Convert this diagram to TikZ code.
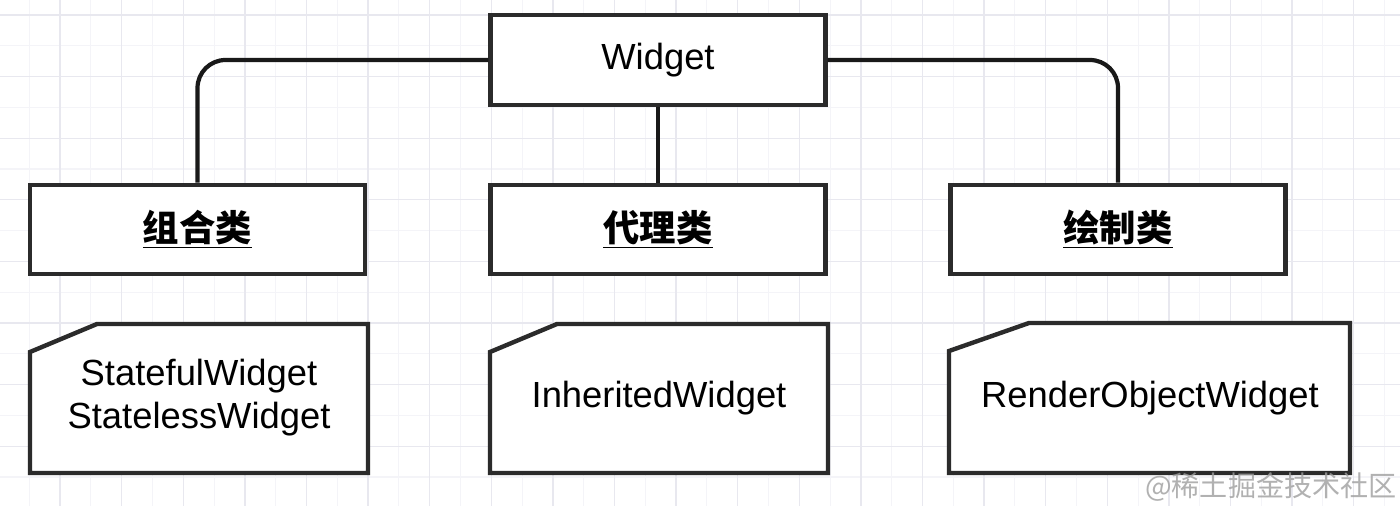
\documentclass[tikz,border=0pt]{standalone}
\usepackage{fontspec}
\setmainfont{Liberation Sans}
\newfontfamily\cjk{Noto Sans CJK SC}
\usetikzlibrary{calc}

\definecolor{gridminor}{HTML}{F4F4F8}
\definecolor{gridmajor}{HTML}{E8E8EF}
\definecolor{edge}{HTML}{2B2B2B}

\begin{document}
\begin{tikzpicture}[x=0.02cm, y=-0.02cm,
    box/.style={draw=edge, line width=2.5pt, fill=white, minimum width=6.7cm, minimum height=1.79cm,
        font=\fontsize{20.7}{24.4}\selectfont},
    kind/.style={box, font=\fontsize{20.7}{24.4}\selectfont\cjk\bfseries},
    card/.style={draw=edge, line width=2.5pt, fill=white, line join=miter},
    cardtext/.style={align=center, font=\fontsize{20.7}{24.4}\selectfont},
    link/.style={draw=black!90, line width=2.4pt, rounded corners=0.56cm}]
    \useasboundingbox (0,0) rectangle (1400,506);
    \fill[white] (0,0) rectangle (1400,506);
    % background grid
    \foreach \x in {29.3,90.9,...,1400} {\draw[gridminor, line width=0.6pt] (\x,0) -- (\x,506);}
    \foreach \y in {45.8,107.4,...,506} {\draw[gridminor, line width=0.6pt] (0,\y) -- (1400,\y);}
    \foreach \x in {60.1,121.7,...,1400} {\draw[gridmajor, line width=0.7pt] (\x,0) -- (\x,506);}
    \foreach \y in {15,76.6,...,506} {\draw[gridmajor, line width=0.7pt] (0,\y) -- (1400,\y);}

    % boxes
    \node[box] (widget) at (658,60) {Widget};
    \node[kind] (combine) at (197.5,229.5) {\underline{组合类}};
    \node[kind] (proxy) at (658,229.5) {\underline{代理类}};
    \node[kind] (paint) at (1118,229.5) {\underline{绘制类}};

    \draw[link] (widget.west) -| (combine.north);
    \draw[link] (widget.east) -| (paint.north);
    \draw[link] (widget.south) -- (proxy.north);

    % cards
    \draw[card] (30,352) -- (97,324) -- (368,324) -- (368,473) -- (30,473) -- cycle;
    \node[cardtext] (statecard) at (199,398) {StatefulWidget\\StatelessWidget};
    \draw[card] (490,352) -- (557,324) -- (828,324) -- (828,473) -- (490,473) -- cycle;
    \node[cardtext] (inheritcard) at (659,398) {InheritedWidget};
    \draw[card] (949,351) -- (1029,323) -- (1350,323) -- (1350,473) -- (949,473) -- cycle;
    \node[cardtext] (rendercard) at (1150,398) {RenderObjectWidget};

    \node[text=black!38, opacity=0.8, inner sep=0pt, font=\fontsize{16}{19}\selectfont\cjk] (mark) at (1271,487) {@稀土掘金技术社区};
\end{tikzpicture}
\end{document}
